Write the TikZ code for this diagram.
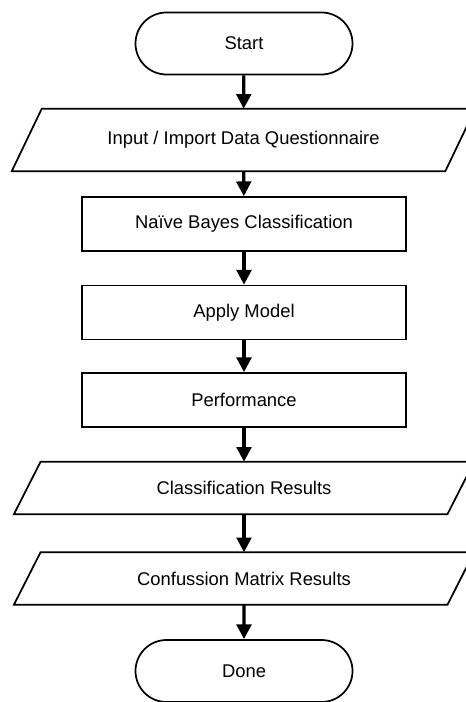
\documentclass[tikz,border=0pt]{standalone}
\usepackage{fontspec}
\setmainfont{Liberation Sans}
\usetikzlibrary{arrows.meta,shapes.misc}

\tikzset{
  terminal/.style={draw, rounded rectangle, line width=1.3pt, minimum width=162.75pt, minimum height=46.5pt, inner sep=0pt},
  process/.style={draw, rectangle, line width=1.3pt, minimum width=243pt, minimum height=40.5pt, inner sep=0pt},
  data/.style={rectangle, minimum width=324.75pt, minimum height=39pt, inner sep=0pt},
  outline/.style={line width=1.3pt, line join=miter},
  flow/.style={-{Triangle[width=11pt,length=11pt]}, line width=2.4pt}
}

\begin{document}
\begin{tikzpicture}[x=0.75pt, y=-0.75pt, every node/.style={font=\fontsize{13.8}{16}\selectfont}]
				\useasboundingbox (0,0) rectangle (465,702);
				% terminals and steps, top to bottom
				\node [terminal] (start) at (244,43.5) {Start};
				\node [data, minimum height=46.5pt] (input) at (243.5,140) {Input / Import Data Questionnaire};
				\node [process] (bayes) at (244,224) {Naïve Bayes Classification};
				\node [process] (model) at (244,312.5) {Apply Model};
				\node [process] (perf) at (244,400) {Performance};
				\node [data] (classres) at (244,488) {Classification Results};
				\node [data] (confres) at (244,578.5) {Confussion Matrix Results};
				\node [terminal] (done) at (244,671) {Done};
				% slanted sides of the data boxes
				\foreach \n/\s in {input/11.25pt, classres/10pt, confres/10pt}
					\draw [outline] ([xshift=-\s]\n.south west) -- ([xshift=-\s]\n.south east)
						-- ([xshift=\s]\n.north east) -- ([xshift=\s]\n.north west) -- cycle;
				% connectors
				\draw [flow] (start) -- (input);
				\draw [flow] (input) -- (bayes);
				\draw [flow] (bayes) -- (model);
				\draw [flow] (model) -- (perf);
				\draw [flow] (perf) -- (classres);
				\draw [flow] (classres) -- (confres);
				\draw [flow] (confres) -- (done);
\end{tikzpicture}
\end{document}
